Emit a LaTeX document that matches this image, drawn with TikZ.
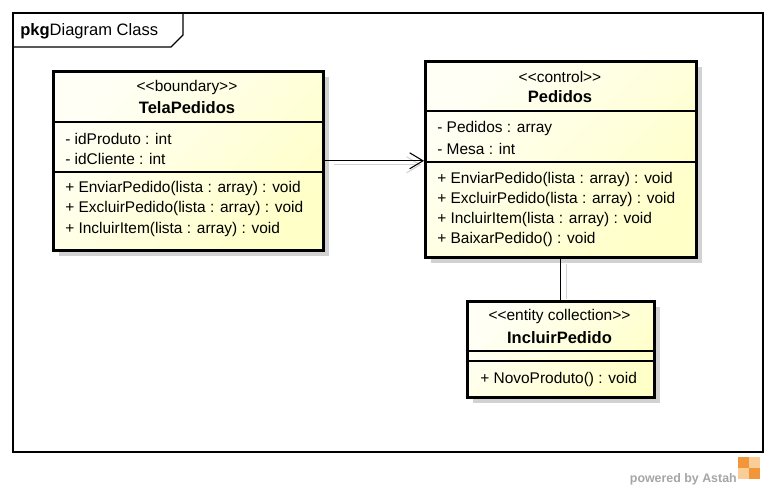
\documentclass[tikz,border=0pt]{standalone}
\usepackage{fontspec}
\setmainfont{Liberation Sans}
\usetikzlibrary{arrows.meta,shadows}

\definecolor{classfill}{RGB}{255,255,200}
\definecolor{classlight}{RGB}{255,255,246}
\definecolor{shadegray}{RGB}{210,210,210}
\definecolor{astahgray}{RGB}{165,165,165}
\definecolor{astahorange}{RGB}{242,150,60}
\definecolor{astahpale}{RGB}{250,205,150}

\newcommand{\umlsize}{\fontsize{11.6}{14}\selectfont}
\newcommand{\umlbig}{\fontsize{12.4}{15}\selectfont}
\newcommand{\stereo}[1]{{<}{<}#1{>}{>}}

\tikzset{
    umltext/.style={inner sep=0pt, font=\umlsize},
    member/.style={umltext, anchor=west},
    classname/.style={inner sep=0pt, font=\umlbig\bfseries},
    classbox/.style={draw=black, line width=2.2pt, anchor=north west,
        top color=classlight, bottom color=classfill, shading angle=45,
        drop shadow={shadow xshift=4.5pt, shadow yshift=-4.5pt,
            fill=shadegray, opacity=1}},
    divider/.style={line width=0.8pt},
    barb/.style={-{Straight Barb[length=10pt,width=12pt,line width=0.8pt]}},
    assoc/.style={line width=0.8pt},
    ghost/.style={line width=0.8pt, draw=shadegray},
    }

\begin{document}
\begin{tikzpicture}[x=0.75pt,y=-0.75pt]
\useasboundingbox (0,0) rectangle (776,492);

% package frame
\draw[line width=0.8pt] (13,13) rectangle (763,452);
\draw[line width=0.8pt] (13,47) -- (171,47) -- (183,35) -- (183,13);
\node[inner sep=0pt, anchor=west, font=\umlbig] (pkg) at (20,31) {\textbf{pkg}Diagram Class};

% boundary
\node[classbox, minimum width=202.5pt, minimum height=134pt] (tela) at (52,70) {};
\node[umltext] (tela-st) at (187,88) {\stereo{boundary}};
\node[classname] (tela-nm) at (187,108) {TelaPedidos};
\draw[divider] (tela.north west) ++(0,52) -- ++(270,0);
\draw[divider] (tela.north west) ++(0,102) -- ++(270,0);
\node[member] (tela-a1) at (65,139) {- idProduto : int};
\node[member] (tela-a2) at (65,159) {- idCliente : int};
\foreach \txt [count=\i] in {+ EnviarPedido(lista : array) : void,
    + ExcluirPedido(lista : array) : void,
    + IncluirItem(lista : array) : void}
    \node[member] (tela-m\i) at (65,{168+20.5*\i}) {\txt};

% control
\node[classbox, minimum width=203pt, minimum height=147pt] (ped) at (424,60) {};
\node[umltext] (ped-st) at (560,77) {\stereo{control}};
\node[classname] (ped-nm) at (560,97) {Pedidos};
\draw[divider] (ped.north west) ++(0,51) -- ++(271,0);
\draw[divider] (ped.north west) ++(0,102) -- ++(271,0);
\node[member] (ped-a1) at (437,129) {- Pedidos : array};
\node[member] (ped-a2) at (437,149) {- Mesa : int};
\foreach \txt [count=\i] in {+ EnviarPedido(lista : array) : void,
    + ExcluirPedido(lista : array) : void,
    + IncluirItem(lista : array) : void,
    + BaixarPedido() : void}
    \node[member] (ped-m\i) at (437,{159.5+20*\i}) {\txt};

% entity collection
\node[classbox, minimum width=140pt, minimum height=72pt] (inc) at (466,300) {};
\node[umltext] (inc-st) at (559.5,317) {\stereo{entity collection}};
\node[classname] (inc-nm) at (559.5,338) {IncluirPedido};
\draw[divider] (inc.north west) ++(0,51) -- ++(187,0);
\draw[divider] (inc.north west) ++(0,61) -- ++(187,0);
\node[member] (inc-m1) at (480,379) {+ NovoProduto() : void};

% connectors
\draw[ghost, barb] ([shift={(9,4)}]tela.east) -- ([shift={(-3,4)}]tela.east -| ped.west);
\draw[ghost] ([shift={(6,5)}]inc.north |- ped.south) -- ([shift={(6,-1)}]inc.north);
\draw[assoc, barb] (tela.east) -- (tela.east -| ped.west);
\draw[assoc] (inc.north |- ped.south) -- (inc.north);

% footer
\node[anchor=east, inner sep=0pt, text=astahgray,
    font=\bfseries\fontsize{9.3}{11}\selectfont] (astah) at (737,479) {powered by Astah};
\fill[astahorange] ([xshift=0.5pt,yshift=8pt]astah.east) rectangle ++(11,-11);
\fill[astahpale] ([xshift=8.75pt,yshift=8pt]astah.east) rectangle ++(11,-11);
\fill[astahpale] ([xshift=0.5pt,yshift=-0.25pt]astah.east) rectangle ++(11,-11);
\fill[astahorange] ([xshift=8.75pt,yshift=-0.25pt]astah.east) rectangle ++(11,-11);
\end{tikzpicture}
\end{document}
